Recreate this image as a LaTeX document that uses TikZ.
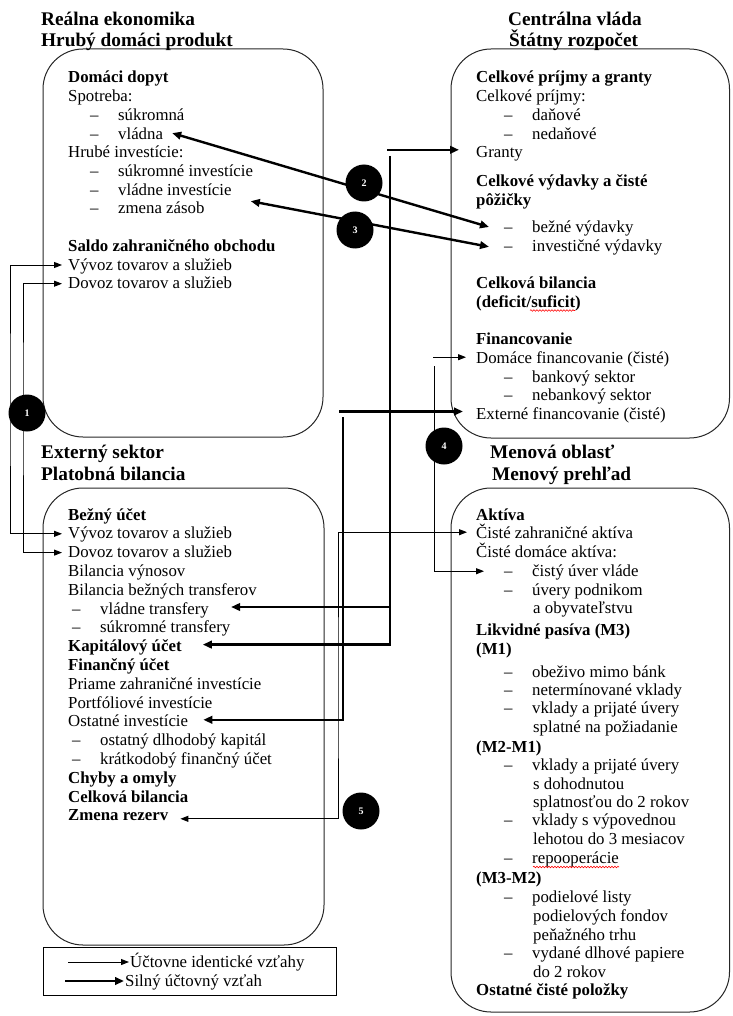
\documentclass[tikz,border=0pt]{standalone}
\usepackage{fontspec}
\setmainfont{Liberation Serif}
\usetikzlibrary{arrows.meta,decorations.pathmorphing}
\newcommand\bodyfont{\fontsize{16.8}{18.8}\selectfont}
\newcommand\titlefont{\fontsize{19.3}{22}\selectfont}
\newcommand\dsh{\makebox[28pt][l]{–}}
\begin{document}
\begin{tikzpicture}[x=1pt,y=-1pt,
  tx/.style={anchor=base west,inner sep=0pt,font=\bodyfont},
  bx/.style={anchor=base west,inner sep=0pt,font=\bodyfont\bfseries},
  ttl/.style={anchor=base west,inner sep=0pt,font=\titlefont\bfseries},
  panel/.style={draw=black!85,line width=1pt,rounded corners=40pt},
  idarr/.style={draw=black,line width=1pt,>={Triangle[length=8pt,width=6pt]}},
  strong/.style={draw=black,line width=2.4pt,>={Triangle[length=9pt,width=7.5pt]}},
  num/.style={circle,fill=black,minimum size=37pt,inner sep=0pt,text=white,font=\fontsize{10}{10}\selectfont\bfseries},
  squig/.style={draw=red,line width=0.6pt,decorate,decoration={snake,amplitude=0.8pt,segment length=3pt}}
]
\useasboundingbox (0,0) rectangle (732,1016);

% panels
\draw[panel] (43,49) rectangle (323,437);
\draw[panel] (451,49) rectangle (729.5,438);
\draw[panel] (43,488) rectangle (324,945);
\draw[panel] (451,488) rectangle (729.5,1012);

% titles
\node[ttl] (tA1) at (41,25.5) {Reálna ekonomika};
\node[ttl] (tA2) at (41,47) {Hrubý domáci produkt};
\node[ttl] (tB1) at (508,25.5) {Centrálna vláda};
\node[ttl] (tB2) at (509,47) {Štátny rozpočet};
\node[ttl] (tC1) at (41,458) {Externý sektor};
\node[ttl] (tC2) at (41,480) {Platobná bilancia};
\node[ttl] (tD1) at (490,458) {Menová oblasť};
\node[ttl] (tD2) at (492,480) {Menový prehľad};

% box A
\node[bx] (a1) at (68,83) {Domáci dopyt};
\node[tx] (a2) at (68,101.7) {Spotreba:};
\node[tx] (a3) at (90,120.4) {\dsh súkromná};
\node[tx] (vladna) at (90,139.1) {\dsh vládna};
\node[tx] (a5) at (68,157.8) {Hrubé investície:};
\node[tx] (a6) at (90,176.5) {\dsh súkromné investície};
\node[tx] (vladinv) at (90,195.2) {\dsh vládne investície};
\node[tx] (a8) at (90,213.9) {\dsh zmena zásob};
\node[bx] (a9) at (68,251.3) {Saldo zahraničného obchodu};
\node[tx] (vyvA) at (68,270) {Vývoz tovarov a služieb};
\node[tx] (dovA) at (68,288.7) {Dovoz tovarov a služieb};

% box B
\node[bx] (b1) at (476,83) {Celkové príjmy a granty};
\node[tx] (b2) at (476,101.7) {Celkové príjmy:};
\node[tx] (b3) at (504,120.4) {\dsh daňové};
\node[tx] (b4) at (504,139.1) {\dsh nedaňové};
\node[tx] (granty) at (476,157.8) {Granty};
\node[bx] (b6) at (476,187) {Celkové výdavky a čisté};
\node[bx] (b7) at (476,205.5) {pôžičky};
\node[tx] (bezne) at (504,233) {\dsh bežné výdavky};
\node[tx] (invest) at (504,251.8) {\dsh investičné výdavky};
\node[bx] (b10) at (476,288.8) {Celková bilancia};
\node[bx] (defsuf) at (476,307.5) {(deficit/suficit)};
\node[bx] (b12) at (476,344.5) {Financovanie};
\node[tx] (domace) at (476,363.2) {Domáce financovanie (čisté)};
\node[tx] (b14) at (504,382) {\dsh bankový sektor};
\node[tx] (b15) at (504,400.7) {\dsh nebankový sektor};
\node[tx] (extern) at (476,419.5) {Externé financovanie (čisté)};

% box C
\node[bx] (c1) at (68,520) {Bežný účet};
\node[tx] (vyvC) at (68,538.8) {Vývoz tovarov a služieb};
\node[tx] (dovC) at (68,557.6) {Dovoz tovarov a služieb};
\node[tx] (c4) at (68,576.4) {Bilancia výnosov};
\node[tx] (c5) at (68,595.2) {Bilancia bežných transferov};
\node[tx] (vladtr) at (72,614) {\dsh vládne transfery};
\node[tx] (c7) at (72,632.8) {\dsh súkromné transfery};
\node[bx] (kap) at (68,651.6) {Kapitálový účet};
\node[bx] (c9) at (68,670.4) {Finančný účet};
\node[tx] (c10) at (68,689.2) {Priame zahraničné investície};
\node[tx] (c11) at (68,708) {Portfóliové investície};
\node[tx] (ostinv) at (68,726.8) {Ostatné investície};
\node[tx] (c13) at (72,745.6) {\dsh ostatný dlhodobý kapitál};
\node[tx] (c14) at (72,764.4) {\dsh krátkodobý finančný účet};
\node[bx] (c15) at (68,783.2) {Chyby a omyly};
\node[bx] (c16) at (68,802) {Celková bilancia};
\node[bx] (zmena) at (68,820.8) {Zmena rezerv};

% box D
\node[bx] (d1) at (476,520) {Aktíva};
\node[tx] (czahr) at (476,538.7) {Čisté zahraničné aktíva};
\node[tx] (d3) at (476,557.4) {Čisté domáce aktíva:};
\node[tx] (cuver) at (504,576.2) {\dsh čistý úver vláde};
\node[tx] (d5) at (504,595) {\dsh úvery podnikom};
\node[tx] (d6) at (533,613.6) {a obyvateľstvu};
\node[bx] (d7) at (476,635.5) {Likvidné pasíva (M3)};
\node[bx] (d8) at (476,654.5) {(M1)};
\node[tx] (d9) at (504,677.5) {\dsh obeživo mimo bánk};
\node[tx] (d10) at (504,695.5) {\dsh netermínované vklady};
\node[tx] (d11) at (504,713.7) {\dsh vklady a prijaté úvery};
\node[tx] (d12) at (533,732.5) {splatné na požiadanie};
\node[bx] (d13) at (476,752) {(M2-M1)};
\node[tx] (d14) at (504,770.8) {\dsh vklady a prijaté úvery};
\node[tx] (d15) at (533,789.3) {s dohodnutou};
\node[tx] (d16) at (533,807.8) {splatnosťou do 2 rokov};
\node[tx] (d17) at (504,825.8) {\dsh vklady s výpovednou};
\node[tx] (d18) at (533,844.3) {lehotou do 3 mesiacov};
\node[tx] (repo) at (504,863) {\dsh repooperácie};
\node[bx] (d20) at (476,883) {(M3-M2)};
\node[tx] (d21) at (504,902) {\dsh podielové listy};
\node[tx] (d22) at (533,921) {podielových fondov};
\node[tx] (d23) at (533,940) {peňažného trhu};
\node[tx] (d24) at (504,958.5) {\dsh vydané dlhové papiere};
\node[tx] (d25) at (533,977) {do 2 rokov};
\node[bx] (d26) at (476,995.5) {Ostatné čisté položky};

% spell-check squiggles
\draw[squig] ([shift={(54,3)}]defsuf.base west) -- ([shift={(99,3)}]defsuf.base west);
\draw[squig] ([shift={(29,4)}]repo.base west) -- ([shift={(0,4)}]repo.base east);

% arrow tips
\coordinate (tVyvA) at ([shift={(-6,-5)}]vyvA.base west);
\coordinate (tDovA) at ([shift={(-6,-5)}]dovA.base west);
\coordinate (tVyvC) at ([shift={(-6,-5)}]vyvC.base west);
\coordinate (tDovC) at ([shift={(-6,-5)}]dovC.base west);
\coordinate (tVladna) at ([shift={(9,-6)}]vladna.base east);
\coordinate (tBezne) at ([shift={(-15,-6)}]bezne.base west);
\coordinate (tVladInv) at ([shift={(19,6)}]vladinv.base east);
\coordinate (tInvest) at ([shift={(-15,-5)}]invest.base west);
\coordinate (tGranty) at ([shift={(-17,-8)}]granty.base west);
\coordinate (tKap) at ([shift={(21,-7)}]kap.base east);
\coordinate (tVladTr) at ([shift={(22,-7)}]vladtr.base east);
\coordinate (tExt) at ([shift={(-13,-8)}]extern.base west);
\coordinate (tOst) at ([shift={(15,-7)}]ostinv.base east);
\coordinate (tDom) at ([shift={(-10,-6)}]domace.base west);
\coordinate (tCuver) at ([shift={(-20,-5)}]cuver.base west);
\coordinate (tCzahr) at ([shift={(-9,-6.5)}]czahr.base west);
\coordinate (tZmena) at ([shift={(12,-2)}]zmena.base east);

% bend / free-end coordinates
\coordinate (v1) at (10,400);
\coordinate (v2) at (23,400);
\coordinate (gx) at (387,0);
\coordinate (g1) at (390,156);
\coordinate (ex) at (339,0);
\coordinate (e1) at (343,417);
\coordinate (dx) at (433,0);
\coordinate (d1s) at (434,366);
\coordinate (v5) at (338,700);

% circle 1 (thin, identity)
\draw[idarr,<->] (tVyvA) -| (v1) |- (tVyvC);
\draw[idarr,<->] (tDovA) -| (v2) |- (tDovC);
% circle 2 and 3 (strong)
\draw[strong,<->] (tVladna) -- (tBezne);
\draw[strong,<->] (tVladInv) -- (tInvest);
% grants / capital account
\draw[strong,->] (gx |- tGranty) -- (tGranty);
\draw[strong,->] (g1) |- (tKap);
\draw[strong,->] (g1 |- tVladTr) -- (tVladTr);
% external financing / other investment
\draw[strong,->] (ex |- tExt) -- (tExt);
\draw[strong,->] (e1) |- (tOst);
% circle 4 (thin)
\draw[idarr,->] (dx |- tDom) -- (tDom);
\draw[idarr,->] (d1s) |- (tCuver);
% circle 5 (thin)
\draw[idarr,<->] (tCzahr) -| (v5) |- (tZmena);

% numbered circles
\node[num] (n1) at (27,413) {1};
\node[num] (n2) at (364,183) {2};
\node[num] (n3) at (355,230) {3};
\node[num] (n4) at (444,446) {4};
\node[num] (n5) at (361,811) {5};

% legend
\draw[line width=1pt] (43,947) rectangle (336,995);
\node[tx] (leg1) at (130,967) {Účtovne identické vzťahy};
\node[tx] (leg2) at (125,986) {Silný účtovný vzťah};
\coordinate (l1) at (68,962);
\coordinate (l2) at (65,981);
\draw[idarr,->] (l1) -- ([shift={(-1,-5)}]leg1.base west);
\draw[strong,->] (l2) -- ([shift={(-1,-5)}]leg2.base west);
\end{tikzpicture}
\end{document}
